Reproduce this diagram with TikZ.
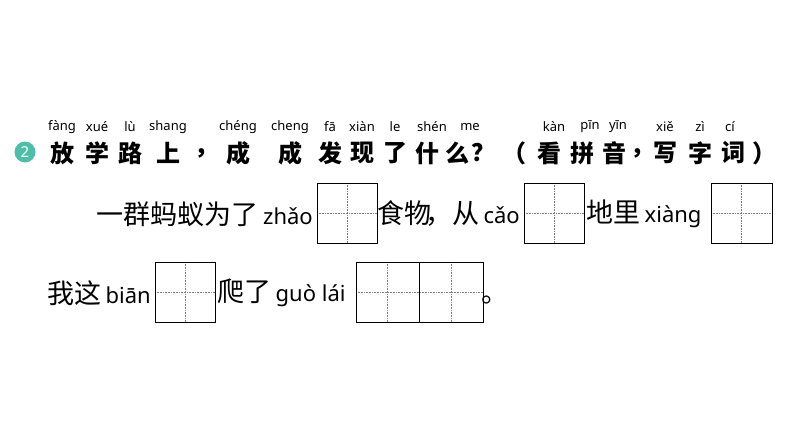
\documentclass[tikz,border=0pt]{standalone}
\usepackage{fontspec}
\setmainfont{Noto Sans}
\newfontfamily\cjk{Noto Sans CJK SC}
\usetikzlibrary{positioning}
\tikzset{
  han/.style={font=\cjk\fontsize{27}{27}\selectfont,inner sep=0pt},
  hanb/.style={font=\cjk\bfseries\fontsize{24}{24}\selectfont,inner sep=0pt},
  py/.style={font=\fontsize{13}{13}\selectfont,inner sep=0pt},
  grid line/.style={densely dotted,gray,line width=0.6pt},
}
\definecolor{teal2}{RGB}{78,190,170}
\newcommand{\pyin}{\fontspec{Noto Sans}\fontsize{22}{22}\selectfont}
\newcommand{\tianzi}[4]{% x, y, cells, cell width
  \draw[grid line] (#1,#2+30) -- (#1+#3*#4,#2+30);
  \foreach \k in {1,...,#3}{
    \draw[grid line] (#1+\k*#4-#4/2,#2) -- (#1+\k*#4-#4/2,#2+60);
    \ifnum\k<#3 \draw[line width=0.8pt] (#1+\k*#4,#2) -- (#1+\k*#4,#2+60);\fi
  }
  \draw[line width=1pt] (#1,#2) rectangle (#1+#3*#4,#2+60);}
\begin{document}
\begin{tikzpicture}[x=1pt,y=-1pt]
\useasboundingbox (0,0) rectangle (794,447);
% number
\node[circle,fill=teal2,minimum size=21pt,inner sep=0pt,text=white,font=\bfseries\fontsize{15}{15}\selectfont] (num) at (25,152) {2};
% heading
\foreach \x/\c in {62/放,97/学,130/路,168/上,238/成,290/成,330/发,362/现,395/了,427/什,457/么,549/看,582/拼,614/音,665/写,700/字,733/词}
  \node[hanb] at (\x,153) {\c};
\foreach \x/\p in {62/fàng,97/xué,130/lù,168/shang,238/chéng,290/cheng,330/fā,362/xiàn,395/le,432/shén,470/me,554/kàn,590/pīn,618/yīn,665/xiě,700/zì,730/cí}
  \node[py] at (\x,127) {\p};
\foreach \x/\c in {206/，,483/？,514/（,642/，,764/）}
  \node[hanb] at (\x,153) {\c};
% row 1
\node[han,anchor=east] (r1a) at (313,214) {一群蚂蚁为了\,\pyin zhǎo};
\tianzi{317}{183}{1}{60}
\node[han,anchor=east] (r1b) at (520,214) {食物\kern-6pt，从\,\pyin cǎo};
\tianzi{524}{183}{1}{60}
\node[han,anchor=west] (r1c) at (586,214) {地里\,\pyin xiàng};
\tianzi{711}{183}{1}{61}
% row 2
\node[han,anchor=east] (r2a) at (151,293) {我这\,\pyin biān};
\tianzi{155}{262}{1}{60}
\node[han,anchor=west] (r2b) at (217,293) {爬了\,\pyin guò lái};
\tianzi{356}{262}{2}{63.5}
\node[han,anchor=west] (r2c) at (481,300) {。};
\end{tikzpicture}
\end{document}
